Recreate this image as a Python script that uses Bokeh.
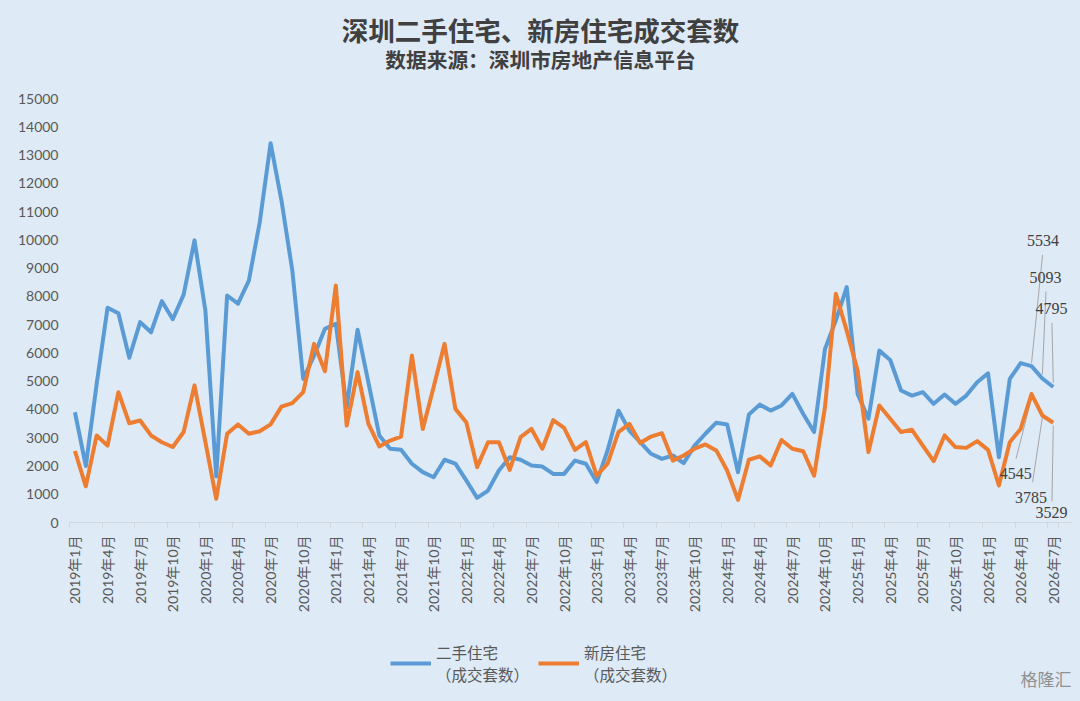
import numpy as np
from bokeh.plotting import figure
from bokeh.layouts import column
from bokeh.models import (ColumnDataSource, FixedTicker, Legend, LegendItem,
                          LabelSet, Label, Range1d)
from bokeh.embed import file_html
from bokeh.resources import INLINE

# ---------------- data ----------------
months = [f"{2019 + i // 12}年{i % 12 + 1}月" for i in range(91)]

second_hand = [
    3900, 2000, 4900, 7600, 7400, 5830, 7090, 6730, 7830, 7190, 8060, 9980,
    7500, 1630, 8030, 7740, 8560, 10620, 13420, 11390, 8910, 5080, 5900, 6850,
    7030, 4080, 6820, 4950, 3080, 2610, 2570, 2080, 1780, 1600, 2220, 2080,
    1490, 870, 1130, 1840, 2310, 2220, 2020, 1980, 1720, 1720, 2190, 2080,
    1430, 2550, 3960, 3250, 2840, 2430, 2250, 2370, 2100, 2720, 3140, 3530,
    3470, 1780, 3820, 4170, 3960, 4140, 4550, 3840, 3200, 6140, 7150, 8330,
    4550, 3670, 6080, 5750, 4670, 4490, 4610, 4200, 4530, 4200, 4490, 4960,
    5280, 2310, 5080, 5640, 5534, 5093, 4795,
]
new_home = [
    2530, 1280, 3080, 2720, 4610, 3510, 3610, 3080, 2840, 2670, 3200, 4850,
    2850, 840, 3140, 3470, 3140, 3230, 3470, 4100, 4220, 4610, 6320, 5350,
    8380, 3430, 5320, 3490, 2690, 2900, 3040, 5910, 3310, 4790, 6320, 4020,
    3550, 1960, 2840, 2840, 1860, 3020, 3310, 2610, 3620, 3350, 2570, 2840,
    1660, 2080, 3200, 3490, 2810, 3040, 3160, 2190, 2370, 2610, 2760, 2550,
    1840, 800, 2220, 2340, 2020, 2920, 2610, 2520, 1660, 4080, 8090, 6790,
    5380, 2490, 4140, 3670, 3200, 3280, 2720, 2170, 3080, 2670, 2640, 2880,
    2570, 1310, 2840, 3310, 4545, 3785, 3529,
]
series_names = ["二手住宅\n（成交套数）", "新房住宅\n（成交套数）"]
y_ticks = list(range(0, 15001, 1000))
x_tick_idx = list(range(0, 91, 3))
title_text = "深圳二手住宅、新房住宅成交套数"
subtitle_text = "数据来源：深圳市房地产信息平台"
watermark_text = "格隆汇"

# labelled points: (series, month index)
labelled = [(0, 88), (0, 89), (0, 90), (1, 88), (1, 89), (1, 90)]

# ---------------- styles ----------------
BG = "#DEEAF6"
BLUE = "#5B9BD5"
ORANGE = "#ED7D31"
TXT = "#595959"
DARK = "#404040"
LAT = "Lato, 'Noto Sans CJK SC'"
CJK = "'Noto Sans CJK SC'"
# annotation layout offsets (index units, value units): text dx, dy, leader dx, dy, gap
ann_offsets = [
    (1.05, 4442, 1.02, 3936, 100),
    (0.28, 3592, 0.33, 3079, 150),
    (-0.17, 2765, -0.12, 2270, 150),
    (-1.46, -2822, -1.43, -2292, -150),
    (-1.05, -2890, -0.90, -2359, -60),
    (-0.17, -3170, -0.12, -2780, -100),
]
# title block positions (index units, value units above the plotted area)
TITLE_POS = (42.83, 17450)
SUBTITLE_POS = (42.83, 16390)

x = list(range(len(months)))
src = ColumnDataSource(dict(x=x, a=second_hand, b=new_home))

# ---------------- main chart ----------------
p = figure(width=1080, height=630, output_backend="svg", toolbar_location=None,
           x_range=Range1d(-0.5, 91.77), y_range=Range1d(0, 18467),
           min_border_left=69, min_border_right=8, min_border_top=0,
           min_border_bottom=108, background_fill_color=BG,
           border_fill_color=BG, outline_line_color=None)
p.grid.visible = False

p.add_layout(Label(x=TITLE_POS[0], y=TITLE_POS[1], text=title_text,
                   text_align="center", text_baseline="middle", text_font=CJK,
                   text_font_size="26.5px", text_font_style="bold",
                   text_color=DARK))
p.add_layout(Label(x=SUBTITLE_POS[0], y=SUBTITLE_POS[1], text=subtitle_text,
                   text_align="center", text_baseline="middle", text_font=CJK,
                   text_font_size="20.7px", text_font_style="bold",
                   text_color=DARK))

xa = p.xaxis[0]
xa.ticker = FixedTicker(ticks=x_tick_idx,
                        minor_ticks=[i - 0.5 for i in x_tick_idx] + [90.5])
xa.major_label_overrides = {i: months[i] for i in x_tick_idx}
xa.major_label_orientation = np.pi / 2
xa.axis_line_color = "#D0D7DE"
xa.major_tick_line_color = None
xa.major_tick_out = 0
xa.minor_tick_line_color = "#D0D7DE"
xa.minor_tick_out = 5
xa.minor_tick_in = 0
xa.major_label_standoff = 8
xa.major_label_text_font = LAT
xa.major_label_text_font_size = "14px"
xa.major_label_text_color = TXT

ya = p.yaxis[0]
ya.ticker = FixedTicker(ticks=y_ticks)
ya.axis_line_color = None
ya.major_tick_line_color = None
ya.minor_tick_line_color = None
ya.major_tick_out = 0
ya.major_tick_in = 0
ya.major_label_standoff = 11
ya.major_label_text_font = LAT
ya.major_label_text_font_size = "14px"
ya.major_label_text_color = TXT

vals = [second_hand, new_home]
lx0, ly0, lx1, ly1, tx, ty, tt = [], [], [], [], [], [], []
for (s, i), (tdx, tdy, ldx, ldy, gap) in zip(labelled, ann_offsets):
    v = vals[s][i]
    lx0.append(i + ldx); ly0.append(v + ldy)
    lx1.append(i); ly1.append(v + gap)
    tx.append(i + tdx); ty.append(v + tdy); tt.append(str(v))
p.segment(x0=lx0, y0=ly0, x1=lx1, y1=ly1, line_color="#A6A6A6", line_width=1)

p.line("x", "a", source=src, line_color=BLUE, line_width=4, line_join="round")
p.line("x", "b", source=src, line_color=ORANGE, line_width=4, line_join="round")

lab_src = ColumnDataSource(dict(x=tx, y=ty, t=tt))
p.add_layout(LabelSet(x="x", y="y", text="t", source=lab_src, text_align="center",
                      text_baseline="middle", text_font=LAT, text_font_size="16px",
                      text_color=DARK))

# ---------------- legend strip (frame aligned with the chart frame) ----------------
q = figure(width=1080, height=71, output_backend="svg", toolbar_location=None,
           x_range=Range1d(69, 1072), y_range=Range1d(0, 71),
           x_axis_location=None, y_axis_location=None,
           min_border_left=69, min_border_right=8, min_border_top=0,
           min_border_bottom=0, background_fill_alpha=0,
           border_fill_color=BG, outline_line_color=None)
q.grid.visible = False
# legend keys: the same series, lying outside this strip's visible range
k1 = q.line("x", "a", source=src, line_color=BLUE, line_width=4)
k2 = q.line("x", "b", source=src, line_color=ORANGE, line_width=4)
legend = Legend(items=[LegendItem(label=series_names[0], renderers=[k1]),
                       LegendItem(label=series_names[1], renderers=[k2])],
                location=(321, 16), orientation="horizontal",
                background_fill_alpha=0, border_line_color=None, padding=0,
                margin=0, spacing=9, glyph_width=41, glyph_height=18,
                label_standoff=5, label_text_font=CJK,
                label_text_font_size="15.5px", label_text_color=TXT,
                label_text_line_height=1.3)
q.add_layout(legend)
q.add_layout(Label(x=1071, y=23, text=watermark_text, text_align="right",
                   text_baseline="middle", text_font=CJK, text_font_size="17px",
                   text_color="#909090"))

layout = column(p, q, spacing=0)
layout.styles = {"background-color": BG}
open("out.html", "w").write(file_html(layout, INLINE))
